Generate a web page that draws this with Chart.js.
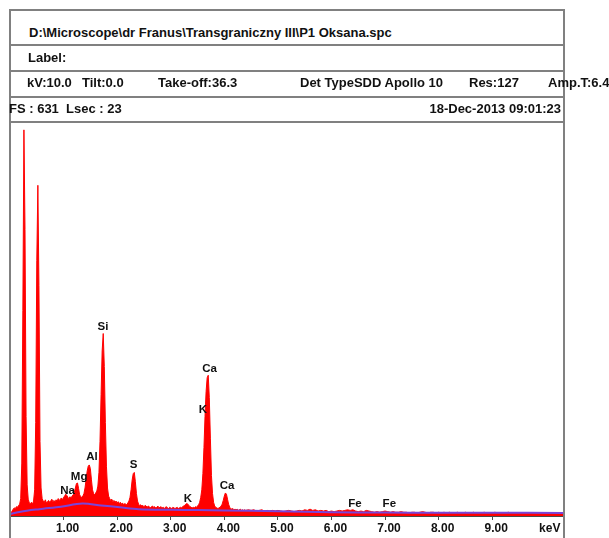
<!DOCTYPE html>
<html>
<head>
<meta charset="utf-8">
<title>P1 Oksana EDS spectrum</title>
<script src="https://cdn.jsdelivr.net/npm/chart.js@4.4.1/dist/chart.umd.min.js"></script>
<style>
  html, body { margin: 0; padding: 0; background: #fff; }
  #page { position: relative; width: 609px; height: 538px; overflow: hidden;
          font-family: "Liberation Sans", Arial, sans-serif; font-weight: bold; color: #111; }
  .hl { position: absolute; left: 9px; width: 556px; height: 2px; background: #808080; }
  .vl { position: absolute; top: 9px; width: 2px; height: 529px; background: #808080; }
  .t { position: absolute; font-size: 13px; line-height: 14px; white-space: nowrap; }
  #plot { position: absolute; left: 0; top: 123px; }
</style>
</head>
<body>
<div id="page">
  <canvas id="plot" width="609" height="415"></canvas>

  <div class="hl" style="top:9px"></div>
  <div class="hl" style="top:44px"></div>
  <div class="hl" style="top:70px"></div>
  <div class="hl" style="top:96px"></div>
  <div class="hl" style="top:121px"></div>
  <div class="vl" style="left:9px"></div>
  <div class="vl" style="left:563px"></div>

  <div class="t" style="left:29px; top:26px">D:\Microscope\dr Franus\Transgraniczny III\P1 Oksana.spc</div>
  <div class="t" style="left:28px; top:51px">Label:</div>
  <div class="t" style="left:27px; top:76px">kV:10.0</div>
  <div class="t" style="left:82px; top:76px">Tilt:0.0</div>
  <div class="t" style="left:158px; top:76px">Take-off:36.3</div>
  <div class="t" style="left:300px; top:76px">Det TypeSDD Apollo 10</div>
  <div class="t" style="left:469px; top:76px">Res:127</div>
  <div class="t" style="left:548px; top:76px">Amp.T:6.4</div>
  <div class="t" style="left:9px; top:102px">FS : 631&nbsp;&nbsp;Lsec : 23</div>
  <div class="t" style="right:48px; top:102px">18-Dec-2013 09:01:23</div>
</div>

<script>
// Spectrum counts, 0.00 - 4.40 keV, one channel every 0.02 keV
const LOW_START = 0.0;
const LOW_STEP = 0.02;
const lowCounts = [
  2, 5, 8, 11, 13, 12, 15, 14, 17, 19,            // 0.00 - 0.18
  28, 85, 330, 620, 460, 160, 50, 27, 21, 20,     // 0.20 - 0.38 (C)
  22, 19, 24, 42, 150, 410, 531, 370, 120, 45,    // 0.40 - 0.58 (O)
  28, 24, 22, 26, 21, 23, 25, 22, 24, 27,         // 0.60 - 0.78
  23, 25, 22, 26, 24, 28, 25, 27, 29, 26,         // 0.80 - 0.98
  30, 32, 35, 33, 30, 28, 31, 29, 32, 34,         // 1.00 - 1.18 (Na)
  38, 45, 52, 53, 44, 34, 31, 30, 32, 36,         // 1.20 - 1.38 (Mg)
  45, 58, 72, 80, 82, 76, 58, 42, 36, 34,         // 1.40 - 1.58 (Al)
  37, 40, 48, 70, 120, 195, 265, 293, 240, 150,   // 1.60 - 1.78 (Si)
  80, 45, 32, 28, 25, 27, 23, 25, 22, 24,         // 1.80 - 1.98
  21, 23, 20, 22, 19, 21, 18, 20, 19, 18,         // 2.00 - 2.18
  21, 24, 30, 42, 58, 68, 70, 55, 36, 24,         // 2.20 - 2.38 (S)
  19, 17, 18, 16, 17, 15, 17, 16, 14, 16,         // 2.40 - 2.58
  15, 13, 15, 16, 14, 15, 13, 14, 16, 13,         // 2.60 - 2.78
  14, 15, 13, 14, 12, 14, 15, 13, 12, 14,         // 2.80 - 2.98
  13, 12, 14, 13, 12, 13, 14, 12, 13, 14,         // 3.00 - 3.18
  13, 15, 16, 17, 19, 20, 19, 17, 15, 14,         // 3.20 - 3.38 (K)
  13, 14, 13, 15, 14, 16, 18, 22, 30, 42,         // 3.40 - 3.58
  68, 110, 160, 200, 222, 226, 190, 125, 65, 36,  // 3.60 - 3.78 (Ca Ka)
  22, 16, 14, 13, 12, 13, 14, 16, 19, 25,         // 3.80 - 3.98
  32, 37, 35, 27, 19, 14, 12, 11, 12, 10,         // 4.00 - 4.18 (Ca Kb)
  11, 10, 11, 9, 10, 11, 9, 10, 9, 10,            // 4.20 - 4.38
  9                                               // 4.40
];

// Spectrum counts, 4.45 - 10.35 keV, one value every 0.05 keV
const HIGH_START = 4.45;
const HIGH_STEP = 0.05;
const highCounts = [
  10, 9, 10, 8, 9, 10, 8, 9, 8, 9, 8, 9, 8, 7, 8, 9, 8, 7, 8, 9,      // 4.45 - 5.40
  8, 10, 9, 11, 9, 10, 8, 9, 8, 9, 7, 8, 7, 8, 9, 8, 9, 10, 9, 10,    // 5.45 - 6.40
  8, 7, 8, 7, 9, 8, 7, 6, 7, 6, 7, 8, 7, 6, 7, 6, 6, 7, 6, 6,         // 6.45 - 7.40
  5, 6, 6, 5, 6, 7, 6, 5, 6, 6, 5, 6, 5, 6, 5, 6, 5, 5, 6, 5,         // 7.45 - 8.40
  5, 6, 5, 5, 6, 5, 5, 5, 6, 5, 5, 5, 6, 5, 5, 5, 5, 6, 5, 5,         // 8.45 - 9.40
  5, 5, 5, 5, 5, 5, 5, 5, 5, 5, 5, 5, 5, 5, 5, 5, 5, 5, 5             // 9.45 - 10.35
];

// Fitted continuum (background) under the spectrum
const bgKeV =    [0, 0.2, 0.55, 0.95, 1.35, 1.7, 2.05, 2.4, 3.0, 3.5, 4.0, 5.0, 6.0, 7.0, 8.0, 9.0, 10.34];
const bgCounts = [3, 7,   11,   15,   20,   17,  14,   11,  10,  9.5, 9,   7.5, 6,   5.5, 5.3, 5.2, 5];

// Element line markers: name, energy (keV), label height (counts)
const peakNames  = ['Na', 'Mg', 'Al', 'Si', 'S', 'K', 'K', 'Ca', 'Ca', 'Fe', 'Fe'];
const peakKeV    = [1.075, 1.29, 1.53, 1.735, 2.305, 3.32, 3.60, 3.725, 4.05, 6.44, 7.08];
const peakLabelY = [40, 63, 95, 303, 82, 27, 171, 236, 48, 19, 19];

// Energy axis ticks (keV); the last position carries the unit
const xTickValues = [1, 2, 3, 4, 5, 6, 7, 8, 9, 10];
const FULL_SCALE = 631;
const X_MAX = 10.34;

const spectrum = lowCounts.map((c, i) => ({ x: LOW_START + i * LOW_STEP, y: c }))
  .concat(highCounts.map((c, i) => ({ x: HIGH_START + i * HIGH_STEP, y: c })));
const background = bgKeV.map((e, i) => ({ x: e, y: bgCounts[i] }));

const FONT = 'Liberation Sans, Arial, sans-serif';

const peakLabelPlugin = {
  id: 'peakLabels',
  afterDatasetsDraw(chart) {
    const { ctx, scales: { x, y } } = chart;
    ctx.save();
    ctx.font = 'bold 11.5px ' + FONT;
    ctx.fillStyle = '#111';
    ctx.textAlign = 'center';
    ctx.textBaseline = 'middle';
    peakNames.forEach((name, i) => {
      ctx.fillText(name, x.getPixelForValue(peakKeV[i]), y.getPixelForValue(peakLabelY[i]));
    });
    ctx.restore();
  }
};

new Chart(document.getElementById('plot'), {
  type: 'line',
  data: {
    datasets: [
      {
        label: 'Background',
        data: background,
        borderColor: '#7a45d8',
        borderWidth: 2,
        fill: false,
        pointRadius: 0,
        tension: 0.3,
        order: 0
      },
      {
        label: 'Counts',
        data: spectrum,
        borderColor: '#ff0000',
        backgroundColor: '#ff0000',
        borderWidth: 1,
        fill: 'origin',
        pointRadius: 0,
        tension: 0,
        order: 1
      }
    ]
  },
  options: {
    responsive: false,
    animation: false,
    devicePixelRatio: 1,
    layout: { padding: { left: 10, right: 45, top: 0, bottom: 0 } },
    plugins: { legend: { display: false }, tooltip: { enabled: false } },
    scales: {
      x: {
        type: 'linear',
        min: 0,
        max: X_MAX,
        afterBuildTicks: s => { s.ticks = xTickValues.map(v => ({ value: v })); },
        afterFit: s => { s.height = 22; },
        border: { display: true, color: '#4a4a4a', width: 2 },
        grid: {
          drawOnChartArea: false,
          drawTicks: true,
          tickLength: 4,
          lineWidth: 1,
          color: c => (c.tick && c.tick.value === 10) ? 'rgba(0,0,0,0)' : '#4a4a4a'
        },
        ticks: {
          color: '#111',
          font: { family: FONT, weight: 'bold', size: 12 },
          padding: 1,
          labelOffset: 4,
          maxRotation: 0,
          autoSkip: false,
          callback: v => v === 10 ? 'keV' : Number(v).toFixed(2)
        }
      },
      y: {
        display: false,
        min: 0,
        max: FULL_SCALE
      }
    }
  },
  plugins: [peakLabelPlugin]
});
</script>
</body>
</html>
